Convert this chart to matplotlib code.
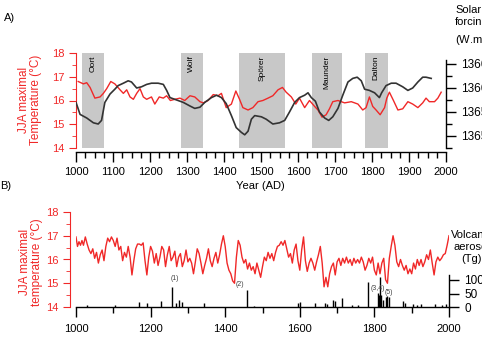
import numpy as np
import matplotlib
matplotlib.use('Agg')
import matplotlib.pyplot as plt
from matplotlib.ticker import MultipleLocator

plt.rcParams['font.family'] = ['Liberation Sans', 'DejaVu Sans']
plt.rcParams['font.size'] = 7.5

RED = '#f02828'
W, H = 482, 344

# --- Panel A: smoothed JJA max temperature and solar forcing ---
a_temp_year = [1006, 1020, 1029, 1038, 1051, 1065, 1074, 1083, 1094, 1105, 1119, 1128, 1137,
               1146, 1155, 1164, 1173, 1182, 1191, 1204, 1213, 1225, 1236, 1245, 1255, 1267,
               1281, 1294, 1308, 1321, 1335, 1344, 1357, 1371, 1384, 1393, 1406, 1420, 1432,
               1442, 1451, 1465, 1478, 1492, 1505, 1519, 1532, 1546, 1558, 1568, 1582, 1594,
               1604, 1618, 1631, 1645, 1654, 1665, 1676, 1685, 1694, 1708, 1726, 1744, 1762,
               1775, 1784, 1793, 1802, 1811, 1822, 1834, 1840, 1847, 1858, 1870, 1883, 1897,
               1910, 1924, 1937, 1946, 1955, 1969, 1978, 1987]
a_temp = [16.8, 16.7, 16.75, 16.55, 16.1, 16.15, 16.3, 16.5, 16.8, 16.7, 16.45, 16.3, 16.45,
          16.15, 16.05, 16.3, 16.5, 16.15, 16.05, 16.15, 15.85, 16.15, 16.1, 16.2, 16.0, 16.05,
          16.1, 16.0, 16.2, 16.15, 15.95, 15.9, 16.0, 16.25, 16.2, 16.3, 15.7, 15.85, 16.4,
          16.05, 15.7, 15.6, 15.7, 15.95, 16.0, 16.1, 16.2, 16.45, 16.55, 16.35, 16.15, 15.85,
          16.1, 15.7, 16.0, 15.75, 15.6, 15.3, 15.4, 15.65, 15.95, 16.0, 15.9, 15.95, 15.85,
          15.6, 15.7, 16.15, 15.75, 15.6, 15.4, 15.7, 16.1, 16.35, 16.0, 15.6, 15.65, 15.95,
          15.85, 15.7, 15.9, 16.1, 15.95, 15.95, 16.1, 16.35]

solar_year = [1000, 1011, 1029, 1047, 1060, 1069, 1078, 1092, 1105, 1114, 1128, 1141, 1150,
              1164, 1177, 1191, 1204, 1222, 1236, 1245, 1254, 1272, 1290, 1308, 1321, 1335,
              1348, 1366, 1380, 1393, 1406, 1420, 1433, 1447, 1456, 1465, 1474, 1483, 1501,
              1514, 1532, 1550, 1564, 1577, 1591, 1604, 1618, 1627, 1636, 1647, 1658, 1672,
              1683, 1694, 1708, 1721, 1735, 1748, 1760, 1771, 1780, 1793, 1807, 1820, 1826,
              1838, 1852, 1865, 1883, 1897, 1910, 1924, 1937, 1946, 1960]
solar = [1365.88, 1365.78, 1365.75, 1365.71, 1365.70, 1365.73, 1365.88, 1365.95, 1365.99,
         1366.02, 1366.04, 1366.06, 1366.05, 1366.00, 1366.01, 1366.03, 1366.04, 1366.04,
         1366.03, 1365.98, 1365.92, 1365.90, 1365.88, 1365.85, 1365.83, 1365.84, 1365.88,
         1365.92, 1365.94, 1365.92, 1365.87, 1365.77, 1365.67, 1365.63, 1365.61, 1365.64,
         1365.74, 1365.77, 1365.76, 1365.74, 1365.70, 1365.71, 1365.73, 1365.80, 1365.88,
         1365.92, 1365.94, 1365.96, 1365.92, 1365.89, 1365.80, 1365.75, 1365.73, 1365.76,
         1365.83, 1365.94, 1366.05, 1366.08, 1366.09, 1366.06, 1365.99, 1365.98, 1365.96,
         1365.92, 1365.96, 1366.02, 1366.04, 1366.04, 1366.01, 1365.98, 1366.00, 1366.05,
         1366.09, 1366.09, 1366.08]

minima_names = ['Oort', 'Wolf', 'Spörer', 'Maunder', 'Dalton']
minima_start = [1015, 1283, 1440, 1637, 1780]
minima_end = [1075, 1343, 1565, 1720, 1843]

# --- Panel B: annual-ish JJA max temperature and volcanic aerosols ---
b_year = [1000, 1004, 1008, 1012, 1016, 1020] + list(range(1025, 2001, 5))
b_temp = [16.95, 16.55, 16.75, 16.6, 16.8, 16.6, 16.95, 16.65, 16.4, 16.25, 16.45, 16.05,
          16.3, 15.85, 16.2, 16.4, 15.95, 16.55, 16.9, 16.75, 16.95, 16.8, 16.55, 16.9, 16.4,
          16.55, 15.95, 16.3, 16.1, 16.55, 16.1, 15.35, 15.95, 16.45, 16.65, 16.65, 16.6,
          16.7, 15.95, 15.35, 16.1, 16.55, 16.35, 15.85, 16.25, 15.75, 16.1, 16.55, 16.4,
          15.7, 16.2, 16.55, 15.95, 16.1, 16.35, 15.7, 16.1, 16.25, 15.7, 15.95, 16.4, 15.9,
          16.05, 15.85, 15.4, 15.9, 16.45, 16.25, 15.85, 15.4, 15.75, 16.05, 16.45, 15.95,
          15.7, 16.05, 16.3, 15.85, 16.2, 16.65, 17.0, 16.55, 15.85, 15.55, 15.4, 15.1, 15.0,
          16.1, 16.8, 16.6, 16.1, 15.85, 16.0, 15.6, 15.85, 15.55, 15.7, 15.4, 15.85, 15.55,
          15.25, 15.7, 16.1, 15.95, 16.3, 16.05, 16.25, 15.95, 16.3, 16.55, 16.6, 16.75, 16.6,
          16.8, 16.45, 16.1, 16.25, 15.85, 16.4, 16.65, 15.95, 15.55, 16.4, 16.95, 15.95, 15.5,
          15.85, 16.05, 15.85, 15.55, 15.9, 16.2, 16.55, 15.85, 14.85, 15.25, 14.85, 15.4,
          15.7, 15.85, 15.35, 15.9, 16.05, 15.75, 16.05, 15.85, 16.1, 15.85, 16.0, 15.75,
          16.05, 15.85, 16.0, 15.85, 16.1, 15.9, 15.55, 15.75, 16.05, 15.85, 16.1, 15.55,
          15.35, 15.85, 15.4, 15.85, 16.05, 15.15, 15.0, 16.05, 16.55, 17.0, 16.6, 15.9, 15.7,
          16.0, 15.75, 15.55, 15.75, 15.4, 15.6, 15.4, 15.85, 15.6, 16.0, 15.75, 16.0, 15.7,
          15.9, 16.2, 16.0, 16.4, 15.85, 15.35, 15.9, 16.1, 15.95, 16.05, 16.2, 16.25, 16.6,
          17.0]

volc_year = [1030, 1104, 1170, 1190, 1228, 1258, 1268, 1276, 1284, 1344, 1458, 1477, 1595,
             1600, 1641, 1667, 1673, 1690, 1695, 1712, 1740, 1755, 1783, 1809, 1812, 1815,
             1818, 1822, 1831, 1835, 1839, 1877, 1883, 1903, 1913, 1925, 1963, 1982, 1991]
volc_tg = [7, 9, 17, 14, 23, 73, 16, 26, 20, 16, 63, 4, 16, 18, 14, 14, 10, 26, 23, 32, 6, 9,
           94, 51, 44, 110, 44, 26, 38, 41, 38, 22, 14, 11, 9, 10, 12, 9, 10]

event_labels = ['(1)', '(2)', '(3,4)', '(5)']
event_year = [1266, 1440, 1808, 1838]
event_tg = [104, 85, 70, 52]


def rect(l, t, r, b):
    return [l / W, 1 - b / H, (r - l) / W, (b - t) / H]


fig = plt.figure(figsize=(W / 100, H / 100), dpi=100)

# ---------------- A ----------------
ax = fig.add_axes(rect(76, 53, 446, 148))
for s, e, name in zip(minima_start, minima_end, minima_names):
    ax.axvspan(s, e, color='#c8c8c8', lw=0, zorder=0)
    ax.text((s + e) / 2, 17.9, name, rotation=90, ha='center', va='top', fontsize=6,
            zorder=1)
ax.plot(a_temp_year, a_temp, color=RED, lw=1.0, zorder=3)
ax.set_xlim(1000, 2000)
ax.set_ylim(14, 18)
ax.spines['top'].set_visible(False)
ax.spines['right'].set_visible(False)
ax.spines['left'].set_color(RED)
ax.spines['bottom'].set_position(('outward', 3))
ax.spines['bottom'].set_linewidth(1.0)
ax.yaxis.set_major_locator(MultipleLocator(1))
ax.yaxis.set_minor_locator(MultipleLocator(0.5))
ax.xaxis.set_major_locator(MultipleLocator(100))
ax.xaxis.set_minor_locator(MultipleLocator(25))
ax.tick_params(axis='y', which='both', colors=RED, labelsize=8)
ax.tick_params(axis='y', which='major', length=5)
ax.tick_params(axis='y', which='minor', length=3)
ax.tick_params(axis='x', which='major', length=7, width=1.0, labelsize=8)
ax.tick_params(axis='x', which='minor', length=4, width=1.0)
fig.text(260 / W, 1 - 186 / H, 'Year (AD)', ha='center', va='center', fontsize=8)
fig.text(30 / W, 1 - 100 / H, 'JJA maximal\nTemperature (°C)', rotation=90, ha='center',
         va='center', color=RED, fontsize=8.5, linespacing=1.0)
fig.text(4 / W, 1 - 18 / H, 'A)', ha='left', va='center', fontsize=8)

axs = ax.twinx()
axs.plot(solar_year, solar, color='#333333', lw=1.2, zorder=4)
axs.set_ylim(1365.5, 1365.5 + 0.1 * 95 / 12)
axs.spines['top'].set_visible(False)
axs.spines['left'].set_visible(False)
axs.spines['bottom'].set_visible(False)
axs.spines['right'].set_bounds(1365.5, 1366.23)
axs.spines['right'].set_linewidth(1.0)
axs.set_yticks([1365.6, 1365.8, 1366.0, 1366.2])
axs.set_yticklabels(['1365.6', '1365.8', '1366.0', '1366.2'])
axs.yaxis.set_minor_locator(MultipleLocator(0.1))
axs.tick_params(axis='y', which='major', length=7, width=1.0, labelsize=8.5, pad=4)
axs.tick_params(axis='y', which='minor', length=4, width=1.0)
fig.text(455 / W, 1 - 27 / H, 'Solar\nforcing\n(W.m$^{-2}$)', ha='left', va='center',
         fontsize=8, linespacing=1.3)

# ---------------- B ----------------
bx = fig.add_axes(rect(76, 212, 449, 307))
bx.plot(b_year, b_temp, color=RED, lw=1.0, zorder=3)
bx.set_xlim(1000, 2000)
bx.set_ylim(14, 18)
bx.spines['top'].set_visible(False)
bx.spines['right'].set_visible(False)
bx.spines['left'].set_color(RED)
bx.spines['left'].set_position(('outward', 4))
bx.spines['bottom'].set_linewidth(1.0)
bx.yaxis.set_major_locator(MultipleLocator(1))
bx.yaxis.set_minor_locator(MultipleLocator(0.5))
bx.xaxis.set_major_locator(MultipleLocator(200))
bx.xaxis.set_minor_locator(MultipleLocator(100))
bx.tick_params(axis='y', which='both', colors=RED, labelsize=8)
bx.tick_params(axis='y', which='major', length=5)
bx.tick_params(axis='y', which='minor', length=3)
bx.tick_params(axis='x', which='major', length=7, width=1.0, labelsize=8, pad=5)
bx.tick_params(axis='x', which='minor', length=4, width=1.0)
fig.text(31 / W, 1 - 262 / H, 'JJA maximal\ntemperature (°C)', rotation=90, ha='center',
         va='center', color=RED, fontsize=8.5, linespacing=1.0)
fig.text(0, 1 - 186 / H, 'B)', ha='left', va='center', fontsize=8)

bv = bx.twinx()
bv.vlines(volc_year, 0, volc_tg, color='black', lw=1.0)
bv.set_ylim(0, 100 * 95 / 27)
bv.spines['top'].set_visible(False)
bv.spines['left'].set_visible(False)
bv.spines['bottom'].set_visible(False)
bv.spines['right'].set_bounds(0, 120)
bv.spines['right'].set_linewidth(1.0)
bv.set_yticks([0, 50, 100])
bv.tick_params(axis='y', which='major', length=7, width=1.0, labelsize=8.5, pad=4)
for lab, yr, tg in zip(event_labels, event_year, event_tg):
    bv.text(yr, tg, lab, ha='center', va='center', fontsize=5, color='#444444')
fig.text(472 / W, 1 - 247 / H, 'Volcanic\naerosol\n(Tg)', ha='center', va='center',
         fontsize=8, linespacing=1.3)

fig.savefig('out.png', dpi=100)
